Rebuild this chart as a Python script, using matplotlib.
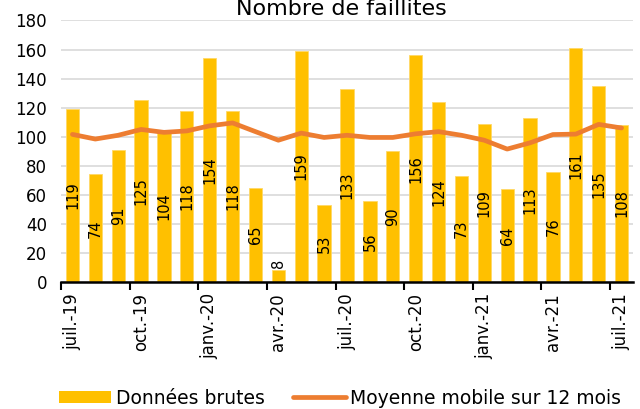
import matplotlib
matplotlib.use("Agg")
import matplotlib.pyplot as plt
import numpy as np
from matplotlib.lines import Line2D
from matplotlib.patches import Patch

months = ["juil.-19", "août-19", "sept.-19", "oct.-19", "nov.-19", "déc.-19",
          "janv.-20", "févr.-20", "mars-20", "avr.-20", "mai-20", "juin-20",
          "juil.-20", "août-20", "sept.-20", "oct.-20", "nov.-20", "déc.-20",
          "janv.-21", "févr.-21", "mars-21", "avr.-21", "mai-21", "juin-21",
          "juil.-21"]
raw = [119, 74, 91, 125, 104, 118, 154, 118, 65, 8, 159, 53, 133, 56, 90,
       156, 124, 73, 109, 64, 113, 76, 161, 135, 108]
moving_avg = [101.6, 98.4, 101.0, 105.0, 103.0, 104.0, 107.5, 109.5, 103.5,
              97.6, 102.5, 99.5, 101.0, 99.5, 99.5, 102.0, 103.5, 101.0,
              97.6, 91.5, 95.8, 101.5, 101.8, 108.5, 106.0]
title = "Nombre de faillites"
legend_labels = ["Données brutes", "Moyenne mobile sur 12 mois"]

plt.rcParams['font.family'] = ['DejaVu Sans']

fig = plt.figure(figsize=(6.4, 4.09), dpi=100)
W, H = 640, 409
left, right, top, bottom = 61, 633, 20.5, 282
ax = fig.add_axes([left / W, 1 - bottom / H, (right - left) / W, (bottom - top) / H])

x = np.arange(len(months))
bar_color = "#FFC000"
line_color = "#ED7D31"

ax.bar(x, raw, width=0.58, color=bar_color, edgecolor="#FFD966", linewidth=0.6, zorder=2)
ax.plot(x, moving_avg, color=line_color, linewidth=3.4, solid_capstyle="round",
        solid_joinstyle="round", zorder=3)

for xi, v in zip(x, raw):
    if v < 20:
        ax.annotate(str(v), (xi, v), xytext=(0, 2), textcoords="offset points",
                    rotation=90, ha="center", va="bottom", fontsize=10.5, zorder=4)
    else:
        ax.text(xi, v / 2, str(v), rotation=90, ha="center", va="center",
                fontsize=10.5, zorder=4)

ax.set_xlim(-0.5, len(months) - 0.5)
ax.set_ylim(0, 180)
ax.set_yticks(np.arange(0, 181, 20))
ax.tick_params(axis="y", length=0, pad=10, labelsize=12)
ax.grid(axis="y", color="#D9D9D9", linewidth=1.2, zorder=0)
ax.set_axisbelow(True)

major = x[::3]
ax.set_xticks(major)
ax.set_xticklabels([months[i] for i in major], rotation=90, fontsize=12)
ax.tick_params(axis="x", which="major", length=0, pad=8)
ax.set_xticks(np.arange(-0.5, len(months), 3), minor=True)
ax.tick_params(axis="x", which="minor", length=6, width=1.5, direction="out")

for s in ["left", "right", "top"]:
    ax.spines[s].set_visible(False)
ax.spines["bottom"].set_linewidth(1.8)

fig.text(341 / W, 1 - 15 / H, title, ha="center", va="baseline", fontsize=16)

handles = [Patch(facecolor=bar_color, edgecolor="none"),
           Line2D([0], [0], color=line_color, linewidth=3.4, solid_capstyle="round")]
fig.legend(handles, legend_labels, loc="center", bbox_to_anchor=(340 / W, 1 - 398 / H),
           ncol=2, frameon=False, fontsize=13.5, handlelength=2.8, handleheight=0.6,
           handletextpad=0.25, columnspacing=1.5, borderaxespad=0, borderpad=0)

fig.savefig("out.png", dpi=100)
